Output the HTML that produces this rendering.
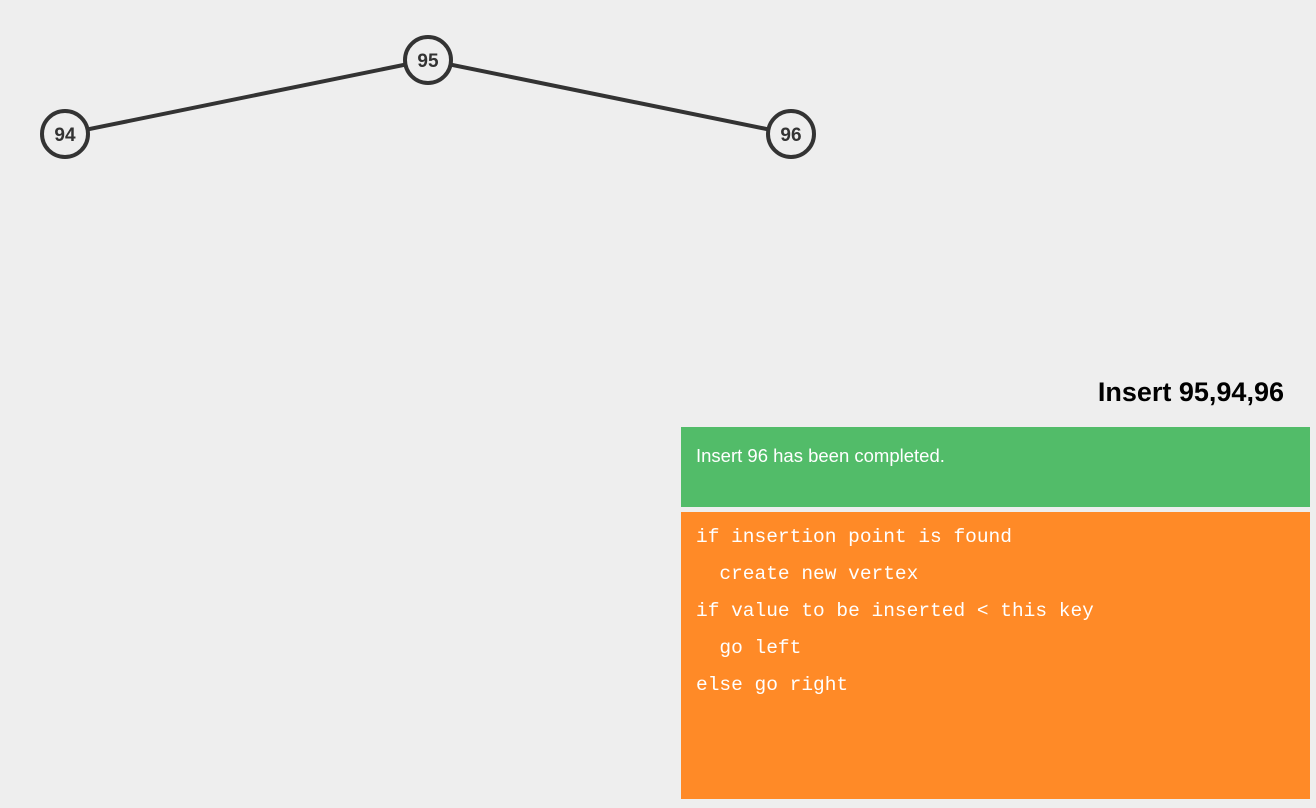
<!DOCTYPE html>
<html><head><style>
body{margin:0;width:1316px;height:808px;background:#eeeeee;position:relative;overflow:hidden;font-family:"Liberation Sans",sans-serif}
.t{position:absolute;right:32px;top:377px;font-size:27px;font-weight:bold;color:#000}
.g{position:absolute;left:681px;top:427px;width:629px;height:80px;background:#52bc69;color:#fff;font-size:18.5px}
.g span{position:absolute;left:15px;top:18px}
.o{position:absolute;left:681px;top:512px;width:629px;height:287px;background:#ff8a27;color:#fff;font-family:"Liberation Mono",monospace;font-size:19.5px}
.o div{position:absolute;left:15px;white-space:pre}
</style></head><body>
<svg width="1316" height="808" style="position:absolute;left:0;top:0">
<g stroke="#333" stroke-width="4" fill="none">
<line x1="428" y1="60" x2="65" y2="134"/><line x1="428" y1="60" x2="791" y2="134"/>
</g>
<g stroke="#333" stroke-width="4" fill="#eee">
<circle cx="428" cy="60" r="23"/><circle cx="65" cy="134" r="23"/><circle cx="791" cy="134" r="23"/>
</g>
<g font-family="Liberation Sans, sans-serif" font-weight="bold" font-size="19" fill="#333" text-anchor="middle">
<text x="428" y="67">95</text><text x="65" y="141">94</text><text x="791" y="141">96</text>
</g>
</svg>
<div class="t">Insert 95,94,96</div>
<div class="g"><span>Insert 96 has been completed.</span></div>
<div class="o">
<div style="top:14px">if insertion point is found</div>
<div style="top:51px">  create new vertex</div>
<div style="top:88px">if value to be inserted &lt; this key</div>
<div style="top:125px">  go left</div>
<div style="top:162px">else go right</div>
</div>
</body></html>
